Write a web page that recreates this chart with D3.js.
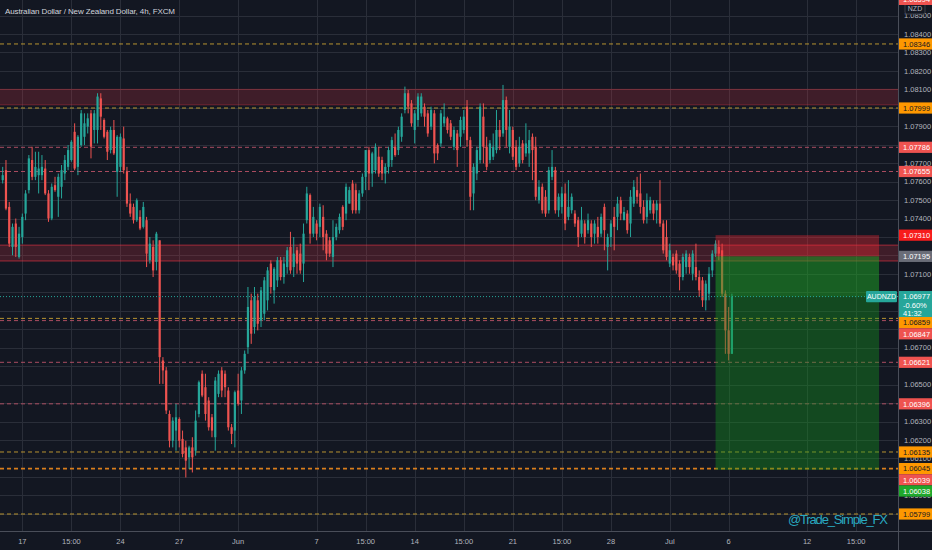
<!DOCTYPE html>
<html><head><meta charset="utf-8">
<script src="https://cdn.jsdelivr.net/npm/d3@7"></script>
<style>html,body{margin:0;padding:0;background:#131722;overflow:hidden}svg{display:block}text{font-family:"Liberation Sans",Arial,sans-serif}</style>
</head><body><svg id="c" width="932" height="550"></svg>
<script>
// ---- data (AUDNZD, 4h candles) ----
const opens=[1.07608,1.07662,1.07463,1.07246,1.07373,1.07192,1.07300,1.07427,1.07554,1.07717,1.07626,1.07635,1.07635,1.07671,1.07536,1.07400,1.07581,1.07518,1.07572,1.07644,1.07680,1.07717,1.07870,1.07680,1.07798,1.07843,1.07898,1.07970,1.07880,1.07880,1.08051,1.07934,1.07870,1.07771,1.07880,1.07653,1.07680,1.07834,1.07653,1.07481,1.07463,1.07391,1.07409,1.07355,1.07391,1.07174,1.07246,1.07165,1.07282,1.06631,1.06577,1.06341,1.06196,1.06251,1.06314,1.06206,1.06160,1.06106,1.06160,1.06142,1.06341,1.06559,1.06486,1.06414,1.06323,1.06215,1.06450,1.06577,1.06559,1.06468,1.06269,1.06251,1.06468,1.06414,1.06577,1.06703,1.06957,1.06812,1.06957,1.06848,1.06884,1.06957,1.07156,1.07011,1.07065,1.07174,1.07083,1.07137,1.07246,1.07137,1.07228,1.07210,1.07156,1.07391,1.07527,1.07318,1.07373,1.07355,1.07409,1.07318,1.07282,1.07192,1.07300,1.07337,1.07463,1.07427,1.07481,1.07590,1.07554,1.07445,1.07536,1.07626,1.07771,1.07644,1.07662,1.07735,1.07717,1.07644,1.07680,1.07717,1.07789,1.07771,1.07843,1.07988,1.08079,1.08024,1.07880,1.07934,1.07970,1.08006,1.07970,1.07898,1.07970,1.07798,1.07807,1.07916,1.07943,1.07916,1.07789,1.07861,1.07843,1.07880,1.08006,1.07825,1.07536,1.07644,1.07717,1.07952,1.07789,1.07717,1.07735,1.07771,1.07880,1.07861,1.08042,1.07789,1.07880,1.07789,1.07699,1.07807,1.07753,1.07753,1.07843,1.07789,1.07499,1.07572,1.07518,1.07445,1.07626,1.07662,1.07445,1.07463,1.07536,1.07409,1.07445,1.07427,1.07391,1.07318,1.07373,1.07337,1.07373,1.07318,1.07355,1.07318,1.07463,1.07246,1.07300,1.07409,1.07409,1.07499,1.07391,1.07427,1.07373,1.07481,1.07554,1.07536,1.07463,1.07409,1.07445,1.07481,1.07445,1.07481,1.07373,1.07300,1.07156,1.07192,1.07210,1.07156,1.07083,1.07137,1.07192,1.07101,1.07137,1.07083,1.07065,1.06957,1.06993,1.07119,1.07210,1.07246,1.07228,1.06993,1.06794,1.06667];
const highs=[1.07680,1.07717,1.07490,1.07373,1.07400,1.07355,1.07427,1.07554,1.07744,1.07789,1.07762,1.07762,1.07744,1.07717,1.07554,1.07590,1.07626,1.07644,1.07690,1.07744,1.07798,1.07825,1.07916,1.07852,1.07988,1.07970,1.07970,1.07988,1.07988,1.08079,1.08079,1.07943,1.07880,1.07898,1.07934,1.07852,1.07861,1.07898,1.07680,1.07536,1.07481,1.07509,1.07445,1.07490,1.07409,1.07300,1.07282,1.07328,1.07282,1.06649,1.06595,1.06360,1.06323,1.06396,1.06323,1.06251,1.06196,1.06169,1.06215,1.06360,1.06522,1.06577,1.06559,1.06432,1.06341,1.06541,1.06577,1.06595,1.06577,1.06486,1.06287,1.06468,1.06559,1.06595,1.06685,1.07029,1.06993,1.07029,1.06993,1.07029,1.07083,1.07137,1.07174,1.07137,1.07192,1.07192,1.07192,1.07246,1.07328,1.07300,1.07246,1.07264,1.07373,1.07572,1.07536,1.07463,1.07391,1.07481,1.07472,1.07337,1.07300,1.07391,1.07373,1.07427,1.07472,1.07590,1.07572,1.07608,1.07590,1.07554,1.07644,1.07771,1.07789,1.07762,1.07807,1.07789,1.07735,1.07699,1.07789,1.07843,1.07861,1.07898,1.07970,1.08115,1.08097,1.08042,1.07988,1.08079,1.08079,1.08024,1.07988,1.08006,1.07988,1.07807,1.07988,1.08024,1.07952,1.07934,1.07898,1.07880,1.07952,1.07988,1.08042,1.07843,1.07699,1.07789,1.08024,1.08024,1.07843,1.07825,1.07861,1.07988,1.07934,1.08124,1.08061,1.07988,1.07898,1.07825,1.07843,1.07825,1.07916,1.07880,1.07861,1.07843,1.07608,1.07590,1.07554,1.07680,1.07771,1.07680,1.07536,1.07572,1.07590,1.07608,1.07536,1.07445,1.07409,1.07463,1.07391,1.07427,1.07391,1.07391,1.07409,1.07427,1.07481,1.07318,1.07391,1.07463,1.07518,1.07518,1.07463,1.07445,1.07554,1.07608,1.07626,1.07644,1.07499,1.07536,1.07518,1.07499,1.07499,1.07608,1.07391,1.07391,1.07264,1.07210,1.07228,1.07174,1.07210,1.07228,1.07210,1.07228,1.07264,1.07119,1.07083,1.07065,1.07137,1.07228,1.07282,1.07282,1.07264,1.07011,1.06921,1.06993];
const lows=[1.07590,1.07445,1.07246,1.07201,1.07192,1.07183,1.07264,1.07391,1.07536,1.07608,1.07608,1.07536,1.07608,1.07527,1.07382,1.07391,1.07545,1.07409,1.07509,1.07608,1.07662,1.07708,1.07662,1.07635,1.07789,1.07798,1.07861,1.07726,1.07807,1.07807,1.07880,1.07834,1.07717,1.07753,1.07744,1.07518,1.07653,1.07644,1.07463,1.07409,1.07373,1.07382,1.07337,1.07346,1.07137,1.07156,1.07083,1.07119,1.06504,1.06504,1.06341,1.06160,1.06160,1.06142,1.06160,1.06106,1.05997,1.06043,1.06024,1.06115,1.06323,1.06432,1.06305,1.06251,1.06215,1.06142,1.06432,1.06432,1.06432,1.06251,1.06178,1.06160,1.06386,1.06341,1.06559,1.06667,1.06721,1.06776,1.06794,1.06812,1.06848,1.06902,1.06993,1.06939,1.07029,1.07065,1.07047,1.07101,1.07101,1.07083,1.07101,1.07101,1.07056,1.07373,1.07264,1.07300,1.07282,1.07300,1.07228,1.07174,1.07192,1.07137,1.07282,1.07318,1.07337,1.07391,1.07481,1.07427,1.07427,1.07427,1.07518,1.07554,1.07554,1.07572,1.07644,1.07626,1.07608,1.07590,1.07644,1.07680,1.07735,1.07744,1.07816,1.07970,1.07970,1.07898,1.07807,1.07898,1.07952,1.07898,1.07843,1.07880,1.07699,1.07717,1.07789,1.07898,1.07861,1.07825,1.07771,1.07680,1.07789,1.07861,1.07789,1.07445,1.07445,1.07608,1.07699,1.07699,1.07662,1.07699,1.07717,1.07753,1.07771,1.07843,1.07789,1.07753,1.07717,1.07662,1.07680,1.07699,1.07735,1.07680,1.07608,1.07499,1.07481,1.07427,1.07409,1.07427,1.07608,1.07427,1.07409,1.07427,1.07337,1.07391,1.07427,1.07355,1.07246,1.07300,1.07264,1.07318,1.07246,1.07264,1.07264,1.07300,1.07228,1.07119,1.07246,1.07228,1.07337,1.07391,1.07391,1.07318,1.07300,1.07463,1.07481,1.07427,1.07373,1.07373,1.07427,1.07391,1.07373,1.07355,1.07210,1.07174,1.07137,1.07119,1.07101,1.07011,1.07065,1.07101,1.07101,1.07065,1.07065,1.06975,1.06921,1.06902,1.06957,1.07083,1.07192,1.07174,1.06975,1.06667,1.06631,1.06667];
const closes=[1.07635,1.07454,1.07264,1.07355,1.07246,1.07318,1.07409,1.07536,1.07726,1.07626,1.07680,1.07671,1.07680,1.07536,1.07400,1.07572,1.07554,1.07626,1.07662,1.07717,1.07771,1.07816,1.07671,1.07843,1.07970,1.07916,1.07943,1.07789,1.07970,1.08061,1.07952,1.07843,1.07762,1.07880,1.07753,1.07843,1.07843,1.07662,1.07481,1.07427,1.07391,1.07499,1.07346,1.07463,1.07210,1.07264,1.07119,1.07318,1.06649,1.06577,1.06360,1.06196,1.06305,1.06323,1.06196,1.06124,1.06088,1.06160,1.06106,1.06305,1.06513,1.06441,1.06341,1.06269,1.06251,1.06522,1.06559,1.06468,1.06486,1.06269,1.06233,1.06459,1.06396,1.06577,1.06667,1.06921,1.06776,1.06975,1.06830,1.07011,1.07065,1.07119,1.07029,1.07128,1.07174,1.07083,1.07156,1.07228,1.07119,1.07210,1.07156,1.07119,1.07318,1.07536,1.07318,1.07409,1.07318,1.07463,1.07300,1.07210,1.07210,1.07300,1.07355,1.07409,1.07355,1.07572,1.07554,1.07445,1.07445,1.07536,1.07626,1.07771,1.07644,1.07753,1.07789,1.07644,1.07644,1.07680,1.07771,1.07825,1.07744,1.07880,1.07952,1.08079,1.08006,1.07916,1.07970,1.08061,1.08061,1.07952,1.07861,1.07988,1.07753,1.07753,1.07970,1.07952,1.07880,1.07843,1.07880,1.07771,1.07934,1.07952,1.07825,1.07518,1.07680,1.07771,1.08006,1.07789,1.07680,1.07807,1.07789,1.07880,1.07843,1.08042,1.07880,1.07898,1.07735,1.07680,1.07789,1.07717,1.07807,1.07825,1.07771,1.07518,1.07572,1.07445,1.07427,1.07662,1.07680,1.07445,1.07518,1.07536,1.07373,1.07463,1.07518,1.07373,1.07300,1.07391,1.07300,1.07391,1.07300,1.07373,1.07300,1.07409,1.07337,1.07300,1.07373,1.07355,1.07481,1.07427,1.07436,1.07337,1.07518,1.07572,1.07518,1.07463,1.07391,1.07499,1.07499,1.07427,1.07481,1.07373,1.07228,1.07192,1.07228,1.07146,1.07119,1.07083,1.07192,1.07210,1.07137,1.07210,1.07083,1.07011,1.06957,1.07047,1.07101,1.07210,1.07264,1.07210,1.06993,1.06794,1.06667,1.06977];

const xTickIdx=[6,21,36,54,72,96,111,126,141,156,171,186,204,222,246,261];
const xTickLabels=["17","15:00","24","27","Jun","7","15:00","14","15:00","21","15:00","28","Jul","6","12","15:00"];
// price-scale labels that are visible (the others are hidden behind price tags)
const yTickVals=[1.085,1.084,1.083,1.082,1.081,1.079,1.077,1.076,1.075,1.074,1.071,1.067,1.065,1.063,1.062,1.061,1.059];

const zoneBands=[[1.08016,1.08100],[1.07170,1.07256]];
const orangeLevels=[1.08346,1.07999,1.06859,1.06135,1.06045,1.05799];
const redLevels=[1.07786,1.07655,1.06847,1.06621,1.06396];
const lastPrice=1.06977, changePct="-0.60%", countdown="41:32";
const posEntry=1.07195, posStop=1.07310, posTarget=1.06038, posStartIdx=218, posEndIdx=268;

// price tags on the right scale: [value, kind]
const priceTags=[[1.08346,"o"],[1.07999,"o"],[1.07786,"r"],[1.07655,"r"],[1.07310,"R"],[1.07195,"g"],[1.06977,"t"],[1.06859,"o"],[1.06847,"r"],[1.06621,"r"],[1.06396,"r"],[1.06135,"o"],[1.06045,"o"],[1.06039,"r"],[1.06038,"G"],[1.05799,"o"]];

// ---- drawing ----
const svg=d3.select("#c");
const PR=898, AB=531;
const x=d3.scaleLinear().domain([0,270]).range([2.7,2.7+270*3.27]);
const y=d3.scaleLinear().domain([1.062,1.084]).range([440,34]);
const f5=d3.format(".5f");

svg.append("rect").attr("width",932).attr("height",550).attr("fill","#131722");

const plot=svg.append("g");
svg.append("clipPath").attr("id","pc").append("rect").attr("x",0).attr("y",0).attr("width",PR).attr("height",AB);
plot.attr("clip-path","url(#pc)");

const gridVals=d3.range(1.058,1.0865,0.001);
plot.append("g").selectAll("line").data(gridVals).join("line")
  .attr("x1",0).attr("x2",PR).attr("y1",d=>Math.round(y(d))+0.5).attr("y2",d=>Math.round(y(d))+0.5)
  .attr("stroke","#2a2e39").attr("stroke-width",1);
plot.append("g").selectAll("line").data(xTickIdx).join("line")
  .attr("y1",0).attr("y2",AB).attr("x1",d=>Math.round(x(d))+0.5).attr("x2",d=>Math.round(x(d))+0.5)
  .attr("stroke","#2a2e39").attr("stroke-width",1);

// zone bands
zoneBands.forEach((b,i)=>{
  const y0=y(b[1]), y1=y(b[0]);
  plot.append("rect").attr("x",0).attr("width",PR).attr("y",y0).attr("height",y1-y0)
    .attr("fill","rgba(242,54,69,0.2)");
  [y0,y1].forEach(v=>plot.append("line").attr("x1",0).attr("x2",PR).attr("y1",v).attr("y2",v)
    .attr("stroke","#f23645").attr("stroke-opacity",i===0?0.35:0.6).attr("stroke-width",1));
});

// levels
redLevels.forEach(v=>plot.append("line").attr("x1",0).attr("x2",PR).attr("y1",y(v)).attr("y2",y(v))
  .attr("stroke","#c5566c").attr("stroke-opacity",0.85).attr("stroke-dasharray","4,3"));
orangeLevels.forEach(v=>plot.append("line").attr("x1",0).attr("x2",PR).attr("y1",y(v)).attr("y2",y(v))
  .attr("stroke",v===1.06045?"#f08a1c":"#c9a132").attr("stroke-width",v===1.06045?1.6:1)
  .attr("stroke-opacity",0.9).attr("stroke-dasharray","4,3"));

// candles
const idx=d3.range(opens.length);
const cg=plot.append("g");
cg.selectAll("line").data(idx).join("line")
  .attr("x1",i=>x(i)).attr("x2",i=>x(i)).attr("y1",i=>y(highs[i])).attr("y2",i=>y(lows[i]))
  .attr("stroke",i=>closes[i]>=opens[i]?"#26a69a":"#ef5350").attr("stroke-width",1);
cg.selectAll("rect").data(idx).join("rect")
  .attr("x",i=>x(i)-1.1).attr("width",2.2)
  .attr("y",i=>y(Math.max(opens[i],closes[i])))
  .attr("height",i=>Math.max(1,Math.abs(y(opens[i])-y(closes[i]))))
  .attr("fill",i=>closes[i]>=opens[i]?"#26a69a":"#ef5350");

// position tool
const px0=x(posStartIdx), px1=x(posEndIdx);
plot.append("rect").attr("x",px0).attr("width",px1-px0).attr("y",y(posStop)).attr("height",y(posEntry)-y(posStop))
  .attr("fill","rgba(242,40,50,0.38)");
plot.append("rect").attr("x",px0).attr("width",px1-px0).attr("y",y(posEntry)).attr("height",y(posTarget)-y(posEntry))
  .attr("fill","rgba(20,150,30,0.4)");
plot.append("rect").attr("x",px0).attr("width",px1-px0).attr("y",y(posEntry)).attr("height",y(lastPrice)-y(posEntry))
  .attr("fill","rgba(50,200,50,0.18)");

// last price dotted line
plot.append("line").attr("x1",0).attr("x2",PR).attr("y1",y(lastPrice)).attr("y2",y(lastPrice))
  .attr("stroke","#26a69a").attr("stroke-dasharray","1,2");

// title & watermark
svg.append("text").attr("x",5).attr("y",14).attr("fill","#d1d4dc").attr("font-size",8)
  .attr("textLength",170).text("Australian Dollar / New Zealand Dollar, 4h, FXCM");
svg.append("text").attr("x",888).attr("y",524).attr("text-anchor","end").attr("fill","#2aa9c0")
  .attr("font-size",13).attr("textLength",100).text("@Trade_Simple_FX");

// axes lines
svg.append("line").attr("x1",PR+0.5).attr("x2",PR+0.5).attr("y1",0).attr("y2",550).attr("stroke","#4a4e59");
svg.append("line").attr("x1",0).attr("x2",932).attr("y1",AB+0.5).attr("y2",AB+0.5).attr("stroke","#4a4e59");

// x tick labels
svg.append("g").selectAll("text").data(xTickIdx).join("text")
  .attr("x",d=>x(d)).attr("y",543.5).attr("text-anchor","middle").attr("fill","#b2b5be").attr("font-size",7.5)
  .text((d,i)=>xTickLabels[i]);

// y tick labels
const yt=svg.append("g");
yt.selectAll("text").data(yTickVals).join("text")
  .attr("x",904).attr("y",d=>y(d)+2.6).attr("fill","#b2b5be").attr("font-size",7.5).text(d=>f5(d));
yt.append("rect").attr("x",905).attr("y",3).attr("width",20).attr("height",11).attr("fill","#131722").attr("stroke","#3a3e49").attr("rx",2);
yt.append("text").attr("x",915).attr("y",11.2).attr("text-anchor","middle").attr("fill","#b2b5be").attr("font-size",7).text("NZD");
// top pinned tag (cut off at the edge)
yt.append("rect").attr("x",899).attr("y",-6).attr("width",33).attr("height",11).attr("fill","#ef5350");
yt.append("text").attr("x",903).attr("y",2).attr("fill","#fff").attr("font-size",7.5).text("1.08594");

// price tags with collision push-down
const tagFill={o:"#ff9800",r:"#ef5350",R:"#f71c1c",g:"#6a6d78",t:"#26a69a",G:"#1fa82c"};
const tagText={o:"#131722",r:"#fff",R:"#fff",g:"#fff",t:"#fff",G:"#fff"};
let lastBottom=-1e9;
const tags=priceTags.map(([v,k])=>({v,k,yc:y(v)})).sort((a,b)=>a.yc-b.yc);
const tg=svg.append("g");
tags.forEach(t=>{
  const up=5.6, down=(t.k==="t")?20.4:5.6;
  let top=t.yc-up; if(top<lastBottom) top=lastBottom;
  const h=up+down; lastBottom=top+h;
  tg.append("rect").attr("x",899).attr("y",top).attr("width",33).attr("height",h).attr("fill",tagFill[t.k]);
  tg.append("text").attr("x",903).attr("y",top+8.3).attr("fill",tagText[t.k]).attr("font-size",7.5).text(f5(t.v));
  if(t.k==="t"){
    tg.append("text").attr("x",903).attr("y",top+16.8).attr("fill","#fff").attr("font-size",7.5).text(changePct);
    tg.append("text").attr("x",903).attr("y",top+25).attr("fill","#fff").attr("font-size",7.5).text(countdown);
    tg.append("rect").attr("x",866).attr("y",top).attr("width",31).attr("height",11.2).attr("fill","#26a69a").attr("rx",1);
    tg.append("text").attr("x",881.5).attr("y",top+8.3).attr("text-anchor","middle").attr("fill","#fff").attr("font-size",7).text("AUDNZD");
  }
});
</script>
</body></html>
